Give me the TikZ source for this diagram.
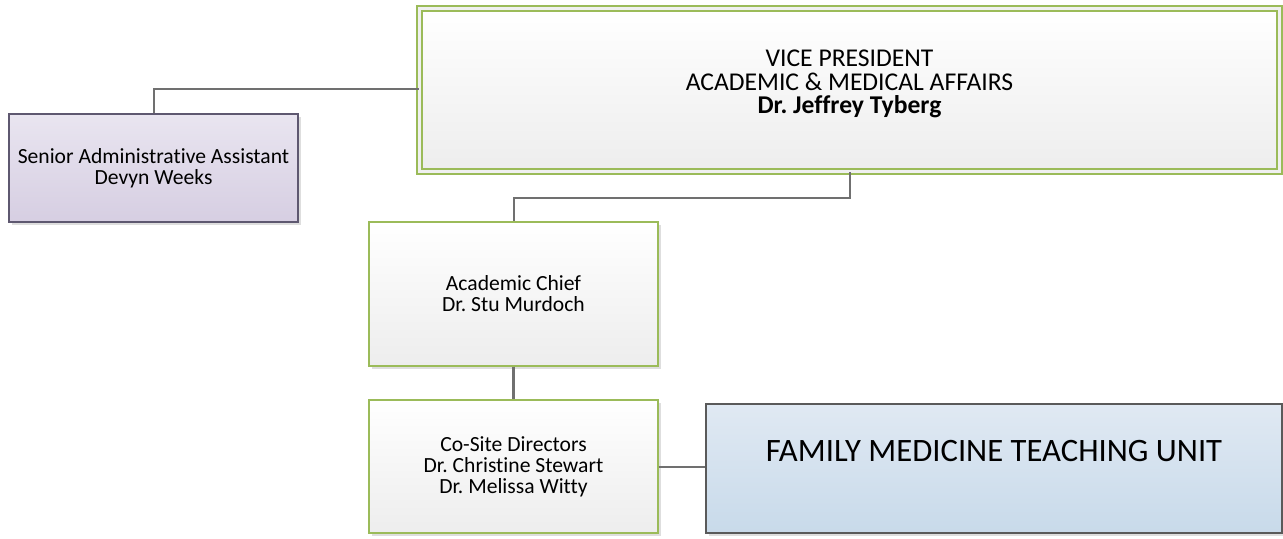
\documentclass[tikz,border=0pt]{standalone}
\usepackage{fontspec}
\setmainfont{Carlito}[Ligatures=CommonOff]
\usetikzlibrary{shadows}
\definecolor{grn}{HTML}{9BBB59}
\definecolor{conn}{HTML}{707070}
\definecolor{lavtop}{HTML}{E9E5F0}
\definecolor{lavbot}{HTML}{D6CEE2}
\definecolor{lavdraw}{HTML}{5E5870}
\definecolor{bluetop}{HTML}{E0E9F3}
\definecolor{bluebot}{HTML}{C8DAEA}
\definecolor{bluedraw}{HTML}{5A5A5A}
\definecolor{greytop}{HTML}{FFFFFF}
\definecolor{greybot}{HTML}{EDEDED}
\tikzset{
  px/.style={x=0.75pt,y=-0.75pt},
  shad/.style={drop shadow={shadow xshift=2.6pt,shadow yshift=-2.6pt,fill=black!13,opacity=1}},
  box/.style={rectangle,shad,align=center,inner sep=0pt,line width=1.1pt,
    font=\fontsize{16.2}{15.8}\selectfont},
  greenbox/.style={box,draw=grn,top color=greytop,bottom color=greybot},
  lavbox/.style={box,draw=lavdraw,top color=lavtop,bottom color=lavbot},
  bluebox/.style={box,draw=bluedraw,top color=bluetop,bottom color=bluebot},
  vpbox/.style={box,draw=grn,double=black!6,double distance=2.6pt,top color=greytop,bottom color=greybot,
    font=\fontsize{19.2}{17.6}\selectfont},
  link/.style={draw=conn,line width=1.6pt}
}
\frenchspacing
\begin{document}
\begin{tikzpicture}[px]
\useasboundingbox (0,0) rectangle (1283,539);
\node[vpbox,minimum width=645pt,minimum height=122.25pt,text depth=12pt] (vp) at (849.5,90)
  {VICE PRESIDENT\\ACADEMIC \& MEDICAL AFFAIRS\\\textbf{Dr. Jeffrey Tyberg}};
\node[lavbox,minimum width=216.75pt,minimum height=81pt] (admin) at (153.5,168)
  {Senior Administrative Assistant\\Devyn Weeks};
\node[greenbox,minimum width=216.75pt,minimum height=108pt] (chief) at (513.5,294)
  {Academic Chief\\Dr. Stu Murdoch};
\node[greenbox,minimum width=216.75pt,minimum height=99.75pt] (cosite) at (513.5,466.5)
  {Co-Site Directors\\Dr. Christine Stewart\\Dr. Melissa Witty};
\node[bluebox,minimum width=432pt,minimum height=96.75pt,text depth=26.25pt,
  font=\fontsize{24.5}{24}\selectfont] (fm) at (994,468.5)
  {FAMILY MEDICINE TEACHING UNIT};
\coordinate (a1) at (154,89);
\coordinate (v1) at (850,198);
\coordinate (v2) at (514,198);
\draw[link] (admin.north -| a1) -- (a1) -- (a1 -| vp.west);
\draw[link] (vp.south -| v1) -- (v1) -- (v2) -- (v2 |- chief.north);
\draw[link] (chief.south) -- (cosite.north);
\draw[link] (cosite.east |- 0,467) -- (fm.west |- 0,467);
\end{tikzpicture}
\end{document}
